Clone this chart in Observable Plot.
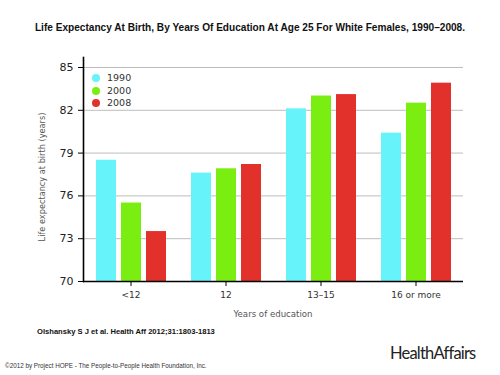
<!DOCTYPE html>
<html>
<head>
<meta charset="utf-8">
<script src="https://cdn.jsdelivr.net/npm/d3@7"></script>
<script src="https://cdn.jsdelivr.net/npm/@observablehq/plot@0.6"></script>
<style>
  html, body { margin: 0; padding: 0; background: #fff; }
  #wrap { position: relative; width: 500px; height: 375px; overflow: hidden; font-family: "Liberation Sans", Arial, sans-serif; }
  #title { position: absolute; top: 22px; left: 0; width: 500px; text-align: center; font-weight: bold; font-size: 10.1px; color: #111; }
  #chart { position: absolute; top: 40px; left: 0; }
  #legend { position: absolute; left: 92px; top: 72px; font-family: "DejaVu Sans", sans-serif; font-size: 9.5px; color: #333; line-height: 12.5px; }
  #legend .item { display: flex; align-items: center; }
  #legend .sw { width: 8px; height: 8px; border-radius: 50%; margin-right: 7px; }
  #ylabel { position: absolute; left: 42px; top: 177px; transform: translate(-50%, -50%) rotate(-90deg); white-space: nowrap; font-family: "DejaVu Sans", sans-serif; font-size: 8.2px; color: #555; }
  #xlabel { position: absolute; left: 273px; top: 314px; transform: translate(-50%, -50%); white-space: nowrap; font-family: "DejaVu Sans", sans-serif; font-size: 8.6px; color: #555; }
  #cite { position: absolute; left: 37px; top: 327px; font-weight: bold; font-size: 7.6px; color: #111; }
  #copy { position: absolute; left: 5px; top: 362px; font-size: 6.3px; color: #333; }
  #logo { position: absolute; left: 390px; top: 343px; font-family: "Lato", sans-serif; font-size: 16.5px; color: #222; letter-spacing: -0.8px; }
</style>
</head>
<body>
<div id="wrap">
  <div id="title"></div>
  <div id="chart"></div>
  <div id="legend"></div>
  <div id="ylabel"></div>
  <div id="xlabel"></div>
  <div id="cite"></div>
  <div id="copy"></div>
  <div id="logo"></div>
</div>
<script>
const titleText = "Life Expectancy At Birth, By Years Of Education At Age 25 For White Females, 1990\u20132008.";
const categories = ["<12", "12", "13\u201315", "16 or more"];
const years = ["1990", "2000", "2008"];
const colors = ["#66f4fa", "#7aee10", "#e2302a"];
const values1990 = [78.5, 77.6, 82.1, 80.4];
const values2000 = [75.5, 77.9, 83.0, 82.5];
const values2008 = [73.5, 78.2, 83.1, 83.9];
const yTicks = [70, 73, 76, 79, 82, 85];
const yLabel = "Life expectancy at birth (years)";
const xLabel = "Years of education";
const citation = "Olshansky S J et al. Health Aff 2012;31:1803-1813";
const copyright = "\u00a92012 by Project HOPE - The People-to-People Health Foundation, Inc.";
const logo = "HealthAffairs";

const series = [values1990, values2000, values2008];
const data = [];
categories.forEach((c, i) => {
  years.forEach((y, j) => data.push({category: c, year: y, value: series[j][i]}));
});

document.getElementById("title").textContent = titleText;
document.getElementById("ylabel").textContent = yLabel;
document.getElementById("xlabel").textContent = xLabel;
document.getElementById("cite").textContent = citation;
document.getElementById("copy").textContent = copyright;
document.getElementById("logo").textContent = logo;
const legend = document.getElementById("legend");
years.forEach((y, j) => {
  const it = document.createElement("div");
  it.className = "item";
  it.innerHTML = `<span class="sw" style="background:${colors[j]}"></span><span>${y}</span>`;
  legend.appendChild(it);
});

const chart = Plot.plot({
  width: 500,
  height: 280,
  marginLeft: 82,
  marginRight: 37,
  marginTop: 17,
  marginBottom: 39,
  style: {fontFamily: "DejaVu Sans, sans-serif", background: "transparent"},
  fx: {domain: categories, padding: 0},
  x: {domain: years, padding: 0.2, paddingOuter: 0.5, axis: null},
  y: {domain: [70, 85.7]},
  color: {domain: years, range: colors},
  marks: [
    Plot.gridY(yTicks.slice(1), {stroke: "#bdbdbd", strokeOpacity: 1, strokeWidth: 1}),
    Plot.barY(data, {fx: "category", x: "year", y1: 70, y2: "value", fill: "year"}),
    Plot.axisY({ticks: yTicks, tickSize: 5, tickPadding: 5, fontSize: 11, stroke: "#000", fill: "#222", label: null}),
    Plot.axisFx({anchor: "bottom", tickSize: 5, tickPadding: 5, fontSize: 9, fill: "#333", stroke: "#000", label: null}),
    Plot.ruleY([70], {stroke: "#000", strokeWidth: 1.6}),
    Plot.frame({anchor: "left", facetAnchor: "left", stroke: "#000", strokeWidth: 1.6})
  ]
});
document.getElementById("chart").appendChild(chart);
</script>
</body>
</html>
